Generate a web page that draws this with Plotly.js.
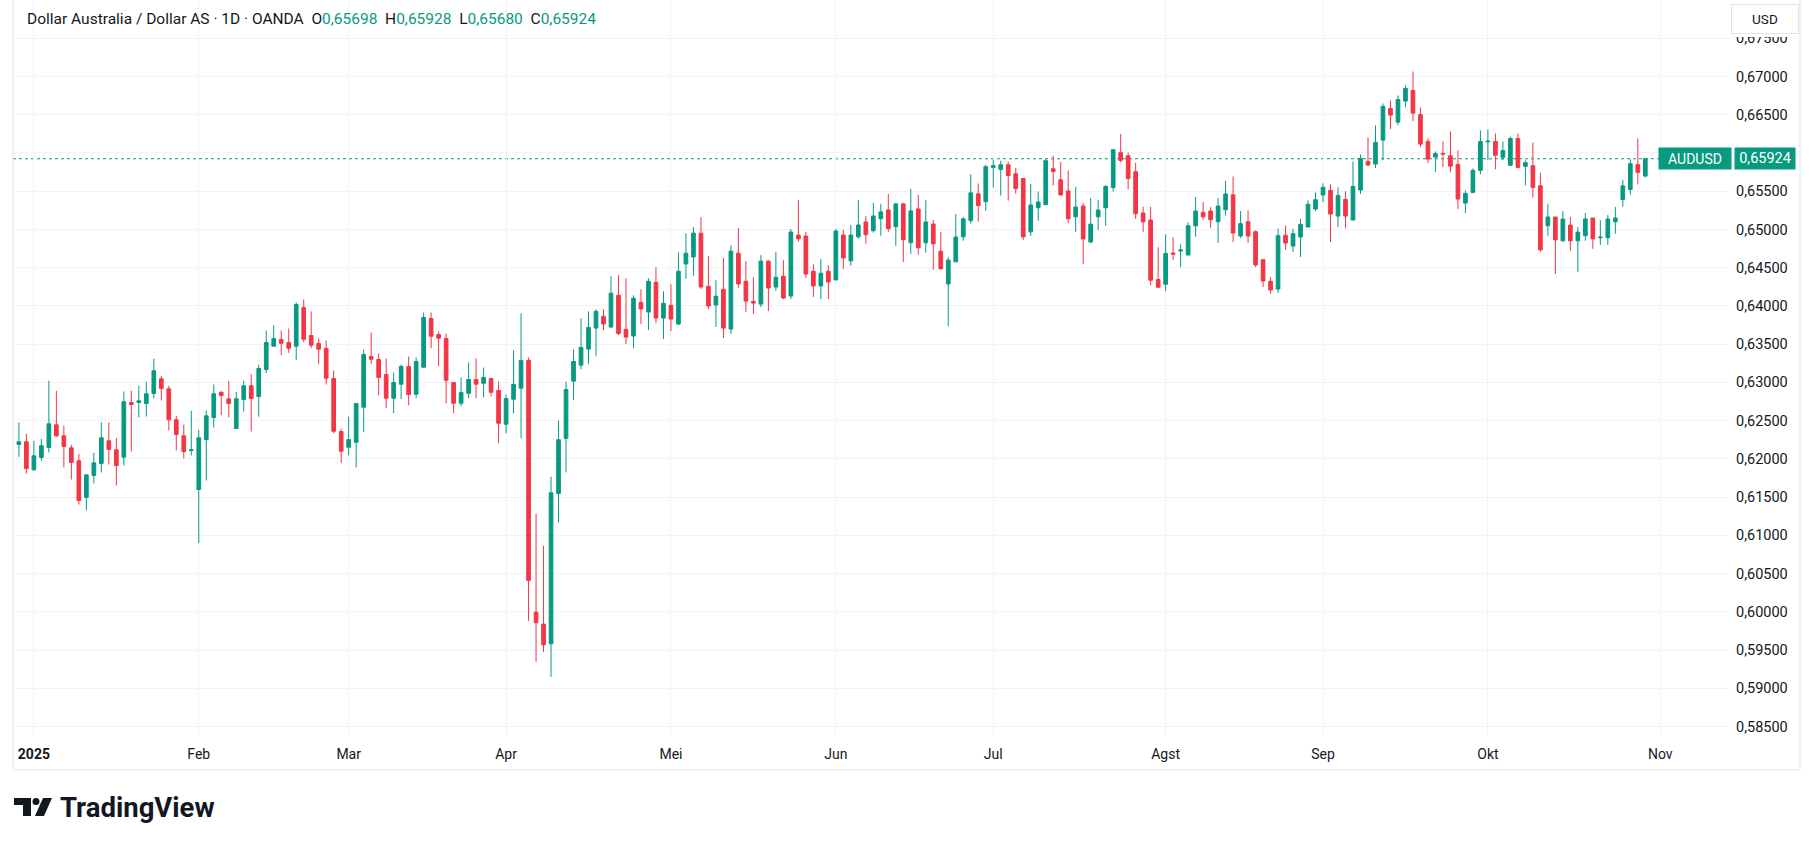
<!DOCTYPE html>
<html><head><meta charset="utf-8">
<script src="https://cdn.plot.ly/plotly-3.0.1.min.js"></script>
<style>html,body{margin:0;padding:0;background:#fff;}#chart{width:1813px;height:845px;}</style>
</head><body><div id="chart"></div>
<script>
// Daily OHLC, AUDUSD (OANDA), 30 Dec 2024 .. 30 Oct 2025 (trading days)
const openP = [
0.62188,0.62223,0.61857,0.62018,0.62149,0.62445,0.62301,0.62144,0.61974,0.61495,
0.61783,0.61940,0.62236,0.62118,0.62022,0.62737,0.62737,0.62724,0.62855,0.63047,
0.62916,0.62511,0.62301,0.62110,0.61599,0.62253,0.62541,0.62868,0.62785,0.62397,
0.62777,0.62955,0.62815,0.63168,0.63473,0.63560,0.63521,0.63473,0.63979,0.63612,
0.63508,0.63442,0.63050,0.62357,0.62152,0.62217,0.62675,0.63338,0.63298,0.63102,
0.62793,0.62976,0.63207,0.62845,0.63198,0.63835,0.63625,0.63573,0.62998,0.62727,
0.62858,0.63037,0.62989,0.63050,0.62893,0.62452,0.62780,0.62924,0.63287,0.59996,
0.59839,0.59581,0.61547,0.62268,0.63016,0.63225,0.63435,0.63710,0.63863,0.63724,
0.64139,0.63693,0.63606,0.64047,0.63920,0.64309,0.63841,0.64008,0.63763,0.64549,
0.64641,0.64951,0.64257,0.64012,0.64217,0.63697,0.64689,0.64322,0.64059,0.64024,
0.64585,0.64247,0.64388,0.64129,0.64926,0.64913,0.64453,0.64261,0.64453,0.64339,
0.64926,0.64589,0.64904,0.65097,0.64983,0.65141,0.65255,0.65036,0.65334,0.64826,
0.65268,0.64826,0.65071,0.64716,0.64287,0.64576,0.64904,0.65115,0.65465,0.65363,
0.65811,0.65784,0.65846,0.65727,0.65666,0.64968,0.65284,0.65324,0.65793,0.65648,
0.65503,0.65165,0.65306,0.64836,0.65165,0.65284,0.65547,0.66004,0.65964,0.65754,
0.65214,0.65122,0.64345,0.64283,0.64691,0.64718,0.64665,0.65047,0.65223,0.65240,
0.65100,0.65258,0.65454,0.64914,0.65101,0.64970,0.64605,0.64322,0.64221,0.64923,
0.64783,0.64901,0.65031,0.65267,0.65450,0.65511,0.65175,0.65393,0.65123,0.65515,
0.65889,0.65855,0.66168,0.66582,0.66403,0.66678,0.66817,0.66503,0.66151,0.65946,
0.65994,0.65963,0.65850,0.65345,0.65484,0.65772,0.66145,0.66149,0.65943,0.65838,
0.66189,0.65825,0.65834,0.65570,0.65049,0.65162,0.64851,0.65057,0.64851,0.64917,
0.65149,0.64891,0.64891,0.65101,0.65391,0.65522,0.65847,0.65698
];
const highP = [
0.62476,0.62328,0.62236,0.62262,0.63021,0.62890,0.62432,0.62184,0.62066,0.61791,
0.62079,0.62476,0.62476,0.62275,0.62881,0.62890,0.62955,0.63008,0.63309,0.63086,
0.62955,0.62563,0.62445,0.62628,0.62380,0.62633,0.62973,0.62890,0.63021,0.62877,
0.63021,0.63104,0.63233,0.63678,0.63748,0.63678,0.63704,0.64044,0.64083,0.63926,
0.63573,0.63547,0.63155,0.62396,0.62553,0.62723,0.63429,0.63652,0.63377,0.63312,
0.63128,0.63233,0.63338,0.63325,0.63913,0.63913,0.63665,0.63639,0.62998,0.63063,
0.63259,0.63312,0.63194,0.63050,0.63011,0.62841,0.63418,0.63903,0.63326,0.61281,
0.60861,0.61766,0.62500,0.63011,0.63431,0.63837,0.63929,0.63955,0.63955,0.64388,
0.64401,0.64362,0.64139,0.64217,0.64362,0.64506,0.64191,0.64283,0.64702,0.64951,
0.65030,0.65161,0.64650,0.64335,0.64624,0.64794,0.65017,0.64585,0.64374,0.64664,
0.64598,0.64703,0.64598,0.65005,0.65386,0.64966,0.64545,0.64611,0.64532,0.65005,
0.64992,0.65058,0.65386,0.65176,0.65347,0.65334,0.65465,0.65347,0.65347,0.65531,
0.65452,0.65386,0.65123,0.64966,0.64637,0.65202,0.65163,0.65720,0.65600,0.65846,
0.65912,0.65899,0.65885,0.65806,0.65666,0.65596,0.65495,0.65925,0.65964,0.65885,
0.65771,0.65556,0.65345,0.65411,0.65389,0.65582,0.66043,0.66250,0.66004,0.65872,
0.65297,0.65297,0.64766,0.64937,0.64898,0.64806,0.65091,0.65424,0.65359,0.65293,
0.65411,0.65635,0.65693,0.65241,0.65249,0.64988,0.64605,0.64374,0.65010,0.65053,
0.65010,0.65136,0.65380,0.65484,0.65602,0.65589,0.65550,0.65498,0.65889,0.65981,
0.66203,0.66360,0.66647,0.66686,0.66752,0.66882,0.67065,0.66595,0.66190,0.66020,
0.66151,0.66281,0.66033,0.65511,0.65798,0.66294,0.66307,0.66255,0.66149,0.66215,
0.66255,0.65904,0.66136,0.65741,0.65334,0.65162,0.65241,0.65162,0.65031,0.65215,
0.65149,0.65123,0.65189,0.65294,0.65649,0.65917,0.66189,0.65928
];
const lowP = [
0.62027,0.61809,0.61848,0.61979,0.62083,0.62288,0.61887,0.61730,0.61403,0.61325,
0.61678,0.61822,0.61926,0.61652,0.61913,0.62096,0.62541,0.62554,0.62790,0.62764,
0.62371,0.62110,0.62005,0.62044,0.60898,0.61717,0.62410,0.62572,0.62541,0.62397,
0.62620,0.62358,0.62553,0.63120,0.63473,0.63355,0.63386,0.63290,0.63525,0.63447,
0.63237,0.62971,0.62335,0.61943,0.62047,0.61890,0.62348,0.63237,0.62832,0.62662,
0.62597,0.62780,0.62701,0.62793,0.63198,0.63447,0.63211,0.62727,0.62597,0.62688,
0.62793,0.62793,0.62806,0.62819,0.62204,0.62334,0.62596,0.62268,0.59882,0.59345,
0.59476,0.59148,0.61167,0.61823,0.62766,0.63173,0.63238,0.63343,0.63684,0.63710,
0.63619,0.63501,0.63448,0.63763,0.63684,0.63776,0.63566,0.63671,0.63750,0.64353,
0.64392,0.64222,0.63960,0.63724,0.63579,0.63632,0.64235,0.63919,0.63893,0.63985,
0.63932,0.64195,0.64090,0.64090,0.64839,0.64366,0.64116,0.64090,0.64090,0.64339,
0.64484,0.64523,0.64878,0.64812,0.64957,0.64918,0.64970,0.64786,0.64576,0.64681,
0.64668,0.64694,0.64471,0.64484,0.63735,0.64576,0.64852,0.65075,0.65102,0.65244,
0.65547,0.65442,0.65376,0.65468,0.64863,0.64915,0.65113,0.65324,0.65574,0.65442,
0.65086,0.64968,0.64546,0.64823,0.64994,0.65047,0.65495,0.65877,0.65521,0.65139,
0.64968,0.64270,0.64244,0.64191,0.64599,0.64507,0.64665,0.64902,0.65126,0.65021,
0.64823,0.65179,0.64835,0.64888,0.64822,0.64509,0.64248,0.64160,0.64169,0.64731,
0.64705,0.64640,0.65031,0.65241,0.65358,0.64835,0.65031,0.65018,0.65123,0.65463,
0.65828,0.65802,0.65907,0.66312,0.66364,0.66599,0.66416,0.66077,0.65868,0.65750,
0.65815,0.65750,0.65267,0.65214,0.65476,0.65720,0.65904,0.65785,0.65904,0.65838,
0.65798,0.65575,0.65417,0.64706,0.64917,0.64417,0.64838,0.64720,0.64443,0.64851,
0.64746,0.64798,0.64798,0.64943,0.65298,0.65456,0.65588,0.65680
];
const closeP = [
0.62223,0.61874,0.62040,0.62171,0.62458,0.62301,0.62162,0.61953,0.61456,0.61791,
0.61948,0.62275,0.62123,0.61913,0.62746,0.62711,0.62759,0.62851,0.63152,0.62921,
0.62511,0.62319,0.62096,0.62118,0.62275,0.62563,0.62851,0.62829,0.62724,0.62785,
0.62955,0.62790,0.63181,0.63521,0.63573,0.63512,0.63447,0.64018,0.63564,0.63486,
0.63434,0.63054,0.62361,0.62099,0.62252,0.62723,0.63364,0.63303,0.63065,0.62793,
0.62998,0.63207,0.62841,0.63272,0.63848,0.63604,0.63578,0.63028,0.62727,0.62867,
0.63037,0.62976,0.63063,0.62871,0.62466,0.62788,0.62972,0.63287,0.60411,0.59856,
0.59568,0.61556,0.62251,0.62906,0.63273,0.63457,0.63719,0.63929,0.63763,0.64165,
0.63640,0.63592,0.64099,0.63960,0.64322,0.63841,0.64034,0.63828,0.64453,0.64689,
0.64951,0.64248,0.63999,0.64126,0.63710,0.64716,0.64287,0.64063,0.64037,0.64585,
0.64234,0.64374,0.64103,0.64966,0.64878,0.64418,0.64261,0.64427,0.64313,0.64979,
0.64628,0.64926,0.65058,0.64931,0.65176,0.65229,0.65010,0.65334,0.64865,0.65242,
0.64760,0.65097,0.64812,0.64484,0.64598,0.64900,0.65137,0.65478,0.65312,0.65820,
0.65833,0.65846,0.65705,0.65534,0.64902,0.65319,0.65359,0.65899,0.65758,0.65451,
0.65139,0.65293,0.64876,0.65069,0.65253,0.65561,0.66043,0.65903,0.65666,0.65205,
0.65100,0.64336,0.64244,0.64687,0.64678,0.64731,0.65047,0.65240,0.65165,0.65126,
0.65306,0.65464,0.64953,0.65075,0.64914,0.64535,0.64326,0.64208,0.64918,0.64822,
0.64944,0.65066,0.65328,0.65389,0.65550,0.65201,0.65445,0.65175,0.65563,0.65929,
0.65842,0.66138,0.66608,0.66495,0.66699,0.66843,0.66521,0.66116,0.65920,0.65990,
0.65985,0.65828,0.65397,0.65471,0.65772,0.66149,0.66154,0.65969,0.66031,0.66189,
0.65812,0.65873,0.65548,0.64733,0.65162,0.64864,0.65136,0.64851,0.64965,0.65136,
0.64877,0.64899,0.65136,0.65149,0.65570,0.65860,0.65746,0.65924
];
const monthTickIndex = [2, 24, 44, 65, 87, 109, 130, 153, 174, 196, 219];
const monthTickLabels = ['<b>2025</b>', 'Feb', 'Mar', 'Apr', 'Mei', 'Jun', 'Jul', 'Agst', 'Sep', 'Okt', 'Nov'];
const priceTicks = [0.585,0.590,0.595,0.600,0.605,0.610,0.615,0.620,0.625,0.630,0.635,0.640,0.645,0.650,0.655,0.660,0.665,0.670,0.675];
const symbolLabel = 'AUDUSD';
const currencyLabel = 'USD';
const legendTitle = 'Dollar Australia / Dollar AS · 1D · OANDA';

const UP = '#089981', DOWN = '#F23645', TXT = '#131722';
const fmt = v => v.toFixed(5).replace('.', ',');
const barIndex = openP.map((_, i) => i);
const last = openP.length - 1;
const lastClose = closeP[last];

// plot area in pixels: left 13, right 1730, top 0, bottom 736
const PL = 13, PR = 1730, PT = 0, PB = 736;
const px = X => (X - PL) / (PR - PL);
const py = Y => (PB - Y) / (PB - PT);
const P = (X, Y) => px(X).toFixed(5) + ',' + py(Y).toFixed(5);

const trace = {
  type: 'candlestick',
  x: barIndex, open: openP, high: highP, low: lowP, close: closeP,
  increasing: {line: {color: UP, width: 1}, fillcolor: UP},
  decreasing: {line: {color: DOWN, width: 1}, fillcolor: DOWN},
  whiskerwidth: 0,
  hoverinfo: 'none',
  showlegend: false
};

const g = s => '<span style="color:' + UP + '">' + s + '</span>';
const legendText = legendTitle + '&nbsp;&nbsp;O' + g(fmt(openP[last])) + '&nbsp;&nbsp;H' + g(fmt(highP[last])) +
  '&nbsp;&nbsp;L' + g(fmt(lowP[last])) + '&nbsp;&nbsp;C' + g(fmt(closeP[last]));

// the last-price label on the axis covers the tick label under it
const priceTickText = priceTicks.map(v => Math.abs(v - lastClose) < 0.0012 ? '' : fmt(v));

const frameColor = '#e0e3eb';
const shapes = [
  {type: 'line', xref: 'paper', yref: 'y', x0: 0, x1: 1, y0: lastClose, y1: lastClose,
   line: {color: UP, width: 1, dash: 'dot'}, layer: 'below'},
  {type: 'line', xref: 'paper', yref: 'paper', x0: 0, x1: 0, y0: py(770), y1: 1, line: {color: frameColor, width: 1}},
  {type: 'line', xref: 'paper', yref: 'paper', x0: 0, x1: px(1800), y0: py(770), y1: py(770), line: {color: frameColor, width: 1}},
  {type: 'line', xref: 'paper', yref: 'paper', x0: px(1800), x1: px(1800), y0: py(770), y1: 1, line: {color: frameColor, width: 1}},
  // white strip under the currency button (hides the upper half of the top tick label)
  {type: 'rect', xref: 'paper', yref: 'paper', x0: px(1732), x1: px(1799), y0: py(37), y1: 1,
   line: {width: 0}, fillcolor: '#ffffff', layer: 'above'},
  // TradingView logo mark
  {type: 'path', xref: 'paper', yref: 'paper', line: {width: 0}, fillcolor: TXT,
   path: 'M' + P(14, 798) + ' L' + P(31, 798) + ' L' + P(31, 816) + ' L' + P(23, 816) + ' L' + P(23, 805) + ' L' + P(14, 805) + ' Z'},
  {type: 'circle', xref: 'paper', yref: 'paper', line: {width: 0}, fillcolor: TXT,
   x0: px(32.5), x1: px(39.5), y0: py(805), y1: py(798)},
  {type: 'path', xref: 'paper', yref: 'paper', line: {width: 0}, fillcolor: TXT,
   path: 'M' + P(43, 798) + ' L' + P(52, 798) + ' L' + P(44, 816) + ' L' + P(35, 816) + ' Z'}
];

const annotations = [
  {xref: 'paper', yref: 'paper', x: px(25), y: py(18.5), xanchor: 'left', yanchor: 'middle',
   text: legendText, showarrow: false, font: {size: 15.5, color: TXT}},
  {xref: 'paper', yref: 'y', x: px(1732), y: lastClose, xanchor: 'right', yanchor: 'middle',
   text: symbolLabel, showarrow: false, bgcolor: UP, font: {size: 14, color: '#ffffff'},
   width: 68, height: 17, borderpad: 2, align: 'center'},
  {xref: 'paper', yref: 'y', x: px(1734), y: lastClose, xanchor: 'left', yanchor: 'middle',
   text: fmt(lastClose), showarrow: false, bgcolor: UP, font: {size: 14.5, color: '#ffffff'},
   width: 56, height: 17, borderpad: 2, align: 'center'},
  {xref: 'paper', yref: 'paper', x: px(1765), y: py(18.5), xanchor: 'center', yanchor: 'middle',
   text: currencyLabel, showarrow: false, bgcolor: '#ffffff', bordercolor: frameColor, borderwidth: 1,
   font: {size: 13.5, color: TXT}, width: 64, height: 26, borderpad: 1, align: 'center'},
  {xref: 'paper', yref: 'paper', x: px(58), y: py(807.5), xanchor: 'left', yanchor: 'middle',
   text: '<b>TradingView</b>', showarrow: false, font: {size: 27.5, color: TXT}}
];

const layout = {
  width: 1813, height: 845,
  margin: {l: PL, r: 1813 - PR, t: PT, b: 845 - PB, pad: 0},
  paper_bgcolor: '#ffffff', plot_bgcolor: '#ffffff',
  font: {family: 'Roboto, "Open Sans", sans-serif', color: TXT, size: 14},
  hovermode: false,
  dragmode: false,
  xaxis: {
    type: 'linear', range: [-0.787, 228.3], rangeslider: {visible: false},
    tickmode: 'array', tickvals: monthTickIndex, ticktext: monthTickLabels,
    showgrid: true, gridcolor: '#f0f3fa', gridwidth: 1, zeroline: false, showline: false,
    ticks: '', ticklabelstandoff: 8, tickfont: {size: 14, color: TXT}, fixedrange: true
  },
  yaxis: {
    side: 'right', range: [0.58376, 0.68000],
    tickmode: 'array', tickvals: priceTicks, ticktext: priceTickText,
    showgrid: true, gridcolor: '#f0f3fa', gridwidth: 1, zeroline: false, showline: false,
    ticks: '', ticklabelstandoff: 5, tickfont: {size: 14.5, color: TXT}, fixedrange: true
  },
  shapes: shapes,
  annotations: annotations
};

Plotly.newPlot('chart', [trace], layout, {staticPlot: true, displayModeBar: false});
</script>
</body></html>
